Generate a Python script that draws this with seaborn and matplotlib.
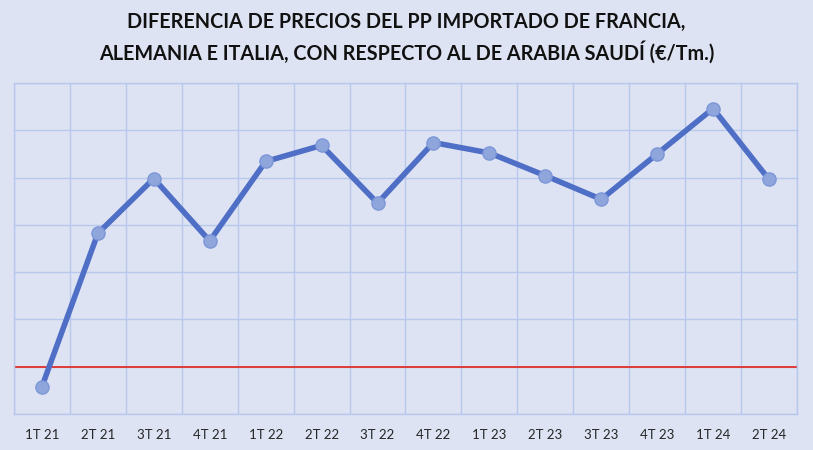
import numpy as np
import pandas as pd
import matplotlib.pyplot as plt
import seaborn as sns

# trimestres y diferencia de precios (€/Tm)
trimestres = ['1T 21', '2T 21', '3T 21', '4T 21', '1T 22', '2T 22', '3T 22',
              '4T 22', '1T 23', '2T 23', '3T 23', '4T 23', '1T 24', '2T 24']
diferencia = [-21, 141, 199, 133, 217, 234, 173,
              237, 226, 202, 177, 225, 273, 198]

df = pd.DataFrame({'trimestre': trimestres, 'diferencia': diferencia})

sns.set_style('white')
plt.rcParams['font.family'] = ['Lato', 'DejaVu Sans']

fondo = '#DDE3F3'
rejilla = '#B8C8EC'

fig = plt.figure(figsize=(8.13, 4.5), dpi=100, facecolor=fondo)
ax = fig.add_axes([0.0172, 0.08, 0.9631, 0.7356])
ax.set_facecolor(fondo)

sns.lineplot(data=df, x='trimestre', y='diferencia', ax=ax, color='#4F6FC6',
             linewidth=4, marker='o', markersize=9.5,
             markerfacecolor='#8FA6DC', markeredgecolor='#7D97D8',
             markeredgewidth=1, zorder=3)

# linea de referencia en cero
ax.axhline(0, color='#E0302A', linewidth=1.3, zorder=2)

ax.set_ylim(-50, 300)
ax.set_yticks(np.arange(-50, 301, 50))
ax.set_xlim(-0.5, len(trimestres) - 0.5)
ax.set_xticks(range(len(trimestres)))
ax.set_xticks(np.arange(-0.5, len(trimestres), 1), minor=True)
ax.set_xticklabels(trimestres, fontsize=9.5, color='#262626')
ax.set_yticklabels([])
ax.tick_params(axis='both', which='both', length=0)
ax.tick_params(axis='x', pad=11)

ax.grid(axis='y', which='major', color=rejilla, linewidth=1)
ax.grid(axis='x', which='minor', color=rejilla, linewidth=1)
for s in ax.spines.values():
    s.set_color(rejilla)
    s.set_linewidth(1)

ax.set_xlabel('')
ax.set_ylabel('')

fig.text(0.5, 0.951, 'DIFERENCIA DE PRECIOS DEL PP IMPORTADO DE FRANCIA,',
         ha='center', va='center', fontsize=14.2, fontweight='bold', color='#111111')
fig.text(0.5, 0.884, 'ALEMANIA E ITALIA, CON RESPECTO AL DE ARABIA SAUDÍ (€/Tm.)',
         ha='center', va='center', fontsize=14.2, fontweight='bold', color='#111111')

fig.savefig('out.png', dpi=100, facecolor=fondo)
